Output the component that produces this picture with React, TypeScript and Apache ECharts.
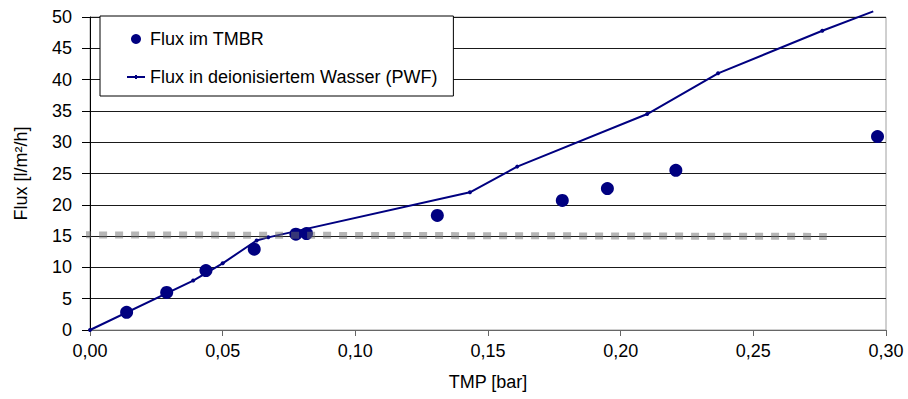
import React, { useEffect, useRef } from "react";
import * as echarts from "echarts";

// Flux im TMBR (scatter)
const tmbrTmp = [0.0138, 0.0289, 0.0437, 0.0619, 0.0776, 0.0816, 0.1309, 0.178, 0.195, 0.2208, 0.2968];
const tmbrFlux = [2.83, 6.0, 9.5, 12.9, 15.3, 15.4, 18.3, 20.7, 22.6, 25.5, 30.9];

// Flux in deionisiertem Wasser (PWF) (line)
const pwfTmp = [0, 0.0389, 0.05, 0.0628, 0.0672, 0.1432, 0.161, 0.21, 0.2367, 0.276, 0.2952];
const pwfFlux = [0, 7.9, 10.65, 14.3, 14.8, 22.0, 26.1, 34.5, 41.0, 47.8, 50.9];

// grey reference line (~15 l/m²/h)
const limitTmp = [-0.0026, 0.2777];
const limitFlux = [15.2, 14.95];

const seriesNames = ["Flux im TMBR", "Flux in deionisiertem Wasser (PWF)"];
const xAxisName = "TMP [bar]";
const yAxisName = "Flux [l/m²/h]";

const FONT = "Liberation Sans, Arial, sans-serif";

export default function App() {
  const ref = useRef<HTMLDivElement>(null);

  useEffect(() => {
    document.body.style.margin = "0";
    if (!ref.current) return;
    const chart = echarts.init(ref.current, undefined, { renderer: "svg" });

    const tmbrData = tmbrTmp.map((x, i) => [x, tmbrFlux[i]]);
    const pwfData = pwfTmp.map((x, i) => {
      const item: any = { value: [x, pwfFlux[i]] };
      if (pwfFlux[i] > 50) item.symbol = "none";
      return item;
    });
    const limitData = limitTmp.map((x, i) => [x, limitFlux[i]]);

    chart.setOption({
      animation: false,
      backgroundColor: "#ffffff",
      textStyle: { fontFamily: FONT, fontSize: 18, color: "#000" },
      grid: {
        left: 90,
        right: 22,
        top: 17,
        bottom: 69,
        show: true,
        borderColor: "#a0a0a0",
        borderWidth: 1,
        backgroundColor: "transparent",
      },
      legend: {
        orient: "vertical",
        left: 100,
        top: 16,
        padding: [14, 16, 10, 27],
        itemGap: 20,
        itemWidth: 18,
        itemHeight: 10,
        backgroundColor: "#ffffff",
        borderColor: "#000",
        borderWidth: 1,
        borderRadius: 0,
        textStyle: { fontFamily: FONT, fontSize: 18, color: "#000", padding: [0, 0, 0, 0] },
        data: [
          { name: seriesNames[0], icon: "circle" },
          {
            name: seriesNames[1],
            icon: "path://M0,1 L18,1 L18,3 L0,3 Z M8,0 L10,0 L10,4 L8,4 Z",
          },
        ],
      },
      xAxis: {
        type: "value",
        min: 0,
        max: 0.3,
        interval: 0.05,
        name: xAxisName,
        nameLocation: "middle",
        nameGap: 43,
        nameTextStyle: { fontFamily: FONT, fontSize: 18, color: "#000" },
        axisLine: { show: true, onZero: false, lineStyle: { color: "#666", width: 1 } },
        axisTick: { show: true, inside: false, length: 6, lineStyle: { color: "#666" } },
        axisLabel: {
          margin: 12,
          fontFamily: FONT,
          fontSize: 18,
          color: "#000",
          formatter: (v: number) => v.toFixed(2).replace(".", ","),
        },
        splitLine: { show: false },
      },
      yAxis: {
        type: "value",
        min: 0,
        max: 50,
        interval: 5,
        name: yAxisName,
        nameLocation: "middle",
        nameGap: 60,
        nameRotate: 90,
        nameTextStyle: { fontFamily: FONT, fontSize: 18, color: "#000" },
        axisLine: { show: true, lineStyle: { color: "#000", width: 1 } },
        axisTick: { show: true, inside: false, length: 8, lineStyle: { color: "#000" } },
        axisLabel: { margin: 18, fontFamily: FONT, fontSize: 18, color: "#000" },
        splitLine: { show: true, lineStyle: { color: "#1a1a1a", width: 1 } },
      },
      series: [
        {
          name: seriesNames[1],
          type: "line",
          data: pwfData,
          clip: false,
          z: 2,
          symbol: "circle",
          symbolSize: 4,
          showSymbol: true,
          color: "#000080",
          itemStyle: { color: "#000080" },
          lineStyle: { color: "#000080", width: 2 },
        },
        {
          name: seriesNames[0],
          type: "scatter",
          data: tmbrData,
          z: 3,
          symbol: "circle",
          symbolSize: 13,
          itemStyle: { color: "#000080", opacity: 1 },
        },
        {
          name: "limit",
          type: "line",
          data: limitData,
          clip: false,
          z: 4,
          silent: true,
          symbol: "none",
          lineStyle: { color: "#6e6e6e", opacity: 0.5, width: 7, type: [8, 8], cap: "butt" },
        },
      ],
    });

    return () => chart.dispose();
  }, []);

  return <div ref={ref} style={{ width: 908, height: 399 }} />;
}
